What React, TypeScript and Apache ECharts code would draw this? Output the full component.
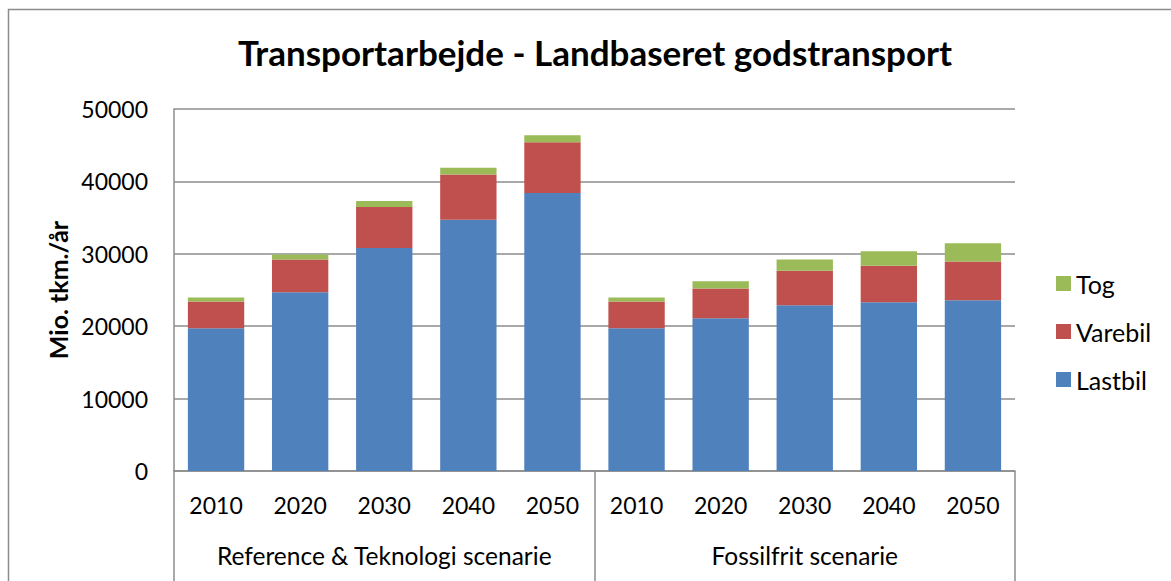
import React, { useEffect, useRef } from "react";
import * as echarts from "echarts";

const years = ["2010", "2020", "2030", "2040", "2050", "2010", "2020", "2030", "2040", "2050"];
const groups = ["Reference & Teknologi scenarie", "Fossilfrit scenarie"];
const lastbil = [19700, 24700, 30800, 34700, 38400, 19700, 21100, 22900, 23300, 23600];
const varebil = [3700, 4500, 5650, 6250, 7000, 3700, 4100, 4750, 5050, 5350];
const tog = [580, 700, 830, 920, 970, 580, 1000, 1570, 1990, 2520];
const seriesNames = ["Lastbil", "Varebil", "Tog"];
const colors = ["#4F81BD", "#C0504D", "#9BBB59"];
const yTicks = { min: 0, max: 50000, interval: 10000 };

const FONT = "Lato";
const GRAY = "#8c8c8c";

export default function App() {
  const ref = useRef<HTMLDivElement>(null);
  useEffect(() => {
    if (!ref.current) return;
    const chart = echarts.init(ref.current, undefined, { renderer: "svg" });
    const values = [lastbil, varebil, tog];
    chart.setOption({
      animation: false,
      backgroundColor: "#ffffff",
      textStyle: { fontFamily: FONT, color: "#000" },
      title: {
        text: "Transportarbejde - Landbaseret godstransport",
        left: 590,
        textAlign: "center",
        top: 29,
        textStyle: { fontFamily: FONT, fontSize: 35, fontWeight: "bold", color: "#000" },
      },
      graphic: [
        {
          type: "rect",
          shape: { x: 8.5, y: 9.5, width: 1300, height: 700 },
          style: { fill: "none", stroke: GRAY, lineWidth: 1.5 },
          silent: true,
        },
      ],
      legend: {
        orient: "vertical",
        left: 1051,
        top: 266,
        data: ["Tog", "Varebil", "Lastbil"],
        itemWidth: 15,
        itemHeight: 15,
        itemGap: 23,
        icon: "rect",
        textStyle: { fontFamily: FONT, fontSize: 25, color: "#000" },
      },
      grid: { left: 174, top: 109, width: 841, height: 362, containLabel: false },
      xAxis: [
        {
          type: "category",
          data: years,
          position: "bottom",
          axisLine: { show: true, lineStyle: { color: GRAY, width: 1.5 } },
          axisTick: { show: false },
          axisLabel: { fontFamily: FONT, fontSize: 23, color: "#000", margin: 22, interval: 0 },
        },
        {
          type: "category",
          data: groups,
          position: "bottom",
          axisLine: { show: false },
          axisTick: { show: true, length: 110, interval: 0, lineStyle: { color: GRAY, width: 1.5 } },
          axisLabel: { fontFamily: FONT, fontSize: 24.5, color: "#000", margin: 72, interval: 0 },
        },
      ],
      yAxis: {
        type: "value",
        min: yTicks.min,
        max: yTicks.max,
        interval: yTicks.interval,
        name: "Mio. tkm./år",
        nameLocation: "middle",
        nameRotate: 90,
        nameGap: 104,
        nameMoveOverlap: false,
        nameTextStyle: { fontFamily: FONT, fontSize: 25, fontWeight: "bold", color: "#000" },
        axisLine: { show: true, lineStyle: { color: GRAY, width: 1.5 } },
        axisTick: { show: false },
        axisLabel: {
          fontFamily: FONT,
          fontSize: 23,
          color: "#000",
          margin: 26,
          formatter: (v: number) => String(v),
        },
        splitLine: { show: true, lineStyle: { color: GRAY, width: 1.5 } },
      },
      series: seriesNames.map((name, i) => ({
        name,
        type: "bar",
        stack: "total",
        xAxisIndex: 0,
        barCategoryGap: "33%",
        itemStyle: { color: colors[i] },
        data: values[i],
      })),
    });
    return () => chart.dispose();
  }, []);
  return (
    <div
      ref={ref}
      style={{ position: "absolute", left: 0, top: 0, width: 1171, height: 581 }}
    />
  );
}
